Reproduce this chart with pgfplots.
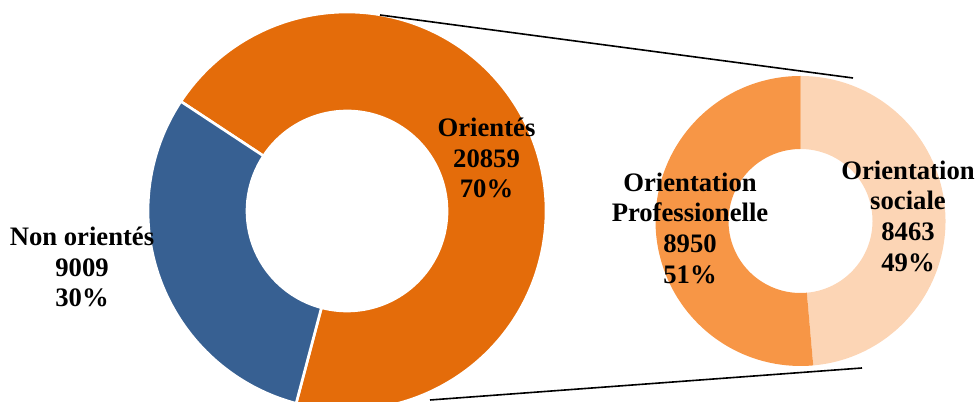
\documentclass[border=0pt]{standalone}
\usepackage{pgfplots}
\pgfplotsset{compat=1.18}
\usepackage{fontspec}
\setmainfont{Liberation Serif}
\definecolor{cOri}{RGB}{228,108,10}
\definecolor{cNon}{RGB}{55,96,146}
\definecolor{cPro}{RGB}{247,150,70}
\definecolor{cSoc}{RGB}{252,213,181}
% data
\def\vOri{20859}
\def\vNon{9009}
\def\vPro{8950}
\def\vSoc{8463}
\edef\aNonS{146.6}
\edef\aNonE{\fpeval{round(\aNonS+360*\vNon/(\vOri+\vNon),3)}}
\edef\aOriE{\fpeval{\aNonS+360}}
\edef\aSocE{\fpeval{round(90-360*\vSoc/(\vPro+\vSoc),3)}}
\edef\aProE{\fpeval{round(\aSocE-360*\vPro/(\vPro+\vSoc),3)}}
% cx, cy, R, r, a1, a2, style
\newcommand\slice[7]{\fill[#7] ([shift={(#5:#3)}]axis cs:#1,#2) arc[start angle=#5,end angle=#6,radius=#3] -- ([shift={(#6:#4)}]axis cs:#1,#2) arc[start angle=#6,end angle=#5,radius=#4] -- cycle;}
\begin{document}
\begin{tikzpicture}
\begin{axis}[width=733.5pt,height=301.5pt,scale only axis,
  xmin=0,xmax=978,ymin=0,ymax=402,hide axis]
\slice{347}{191}{149.25pt}{75pt}{\aNonE}{\aOriE}{cOri,draw=white,line width=2pt}
\slice{347}{191}{149.25pt}{75pt}{\aNonS}{\aNonE}{cNon,draw=white,line width=2pt}
\slice{800.5}{181}{108.75pt}{54pt}{\aSocE}{90}{cSoc}
\slice{800.5}{181}{108.75pt}{54pt}{\aProE}{\aSocE}{cPro}
\draw[black,line width=1.2pt] (axis cs:380,387) -- (axis cs:853,324);
\draw[black,line width=1.2pt] (axis cs:430,2) -- (axis cs:862,34);
\begin{scope}[every node/.style={font=\fontsize{20}{23}\selectfont\bfseries,align=center,inner sep=0pt}]
\node at (axis cs:82,135) {Non orientés\\9009\\30\%};
\node at (axis cs:486.5,244) {Orientés\\20859\\70\%};
\node at (axis cs:690,174) {Orientation\\Professionelle\\8950\\51\%};
\node at (axis cs:908,186) {Orientation\\sociale\\8463\\49\%};
\end{scope}
\end{axis}
\pgfresetboundingbox
\path (current axis.south west) rectangle (current axis.north east);
\end{tikzpicture}
\end{document}
